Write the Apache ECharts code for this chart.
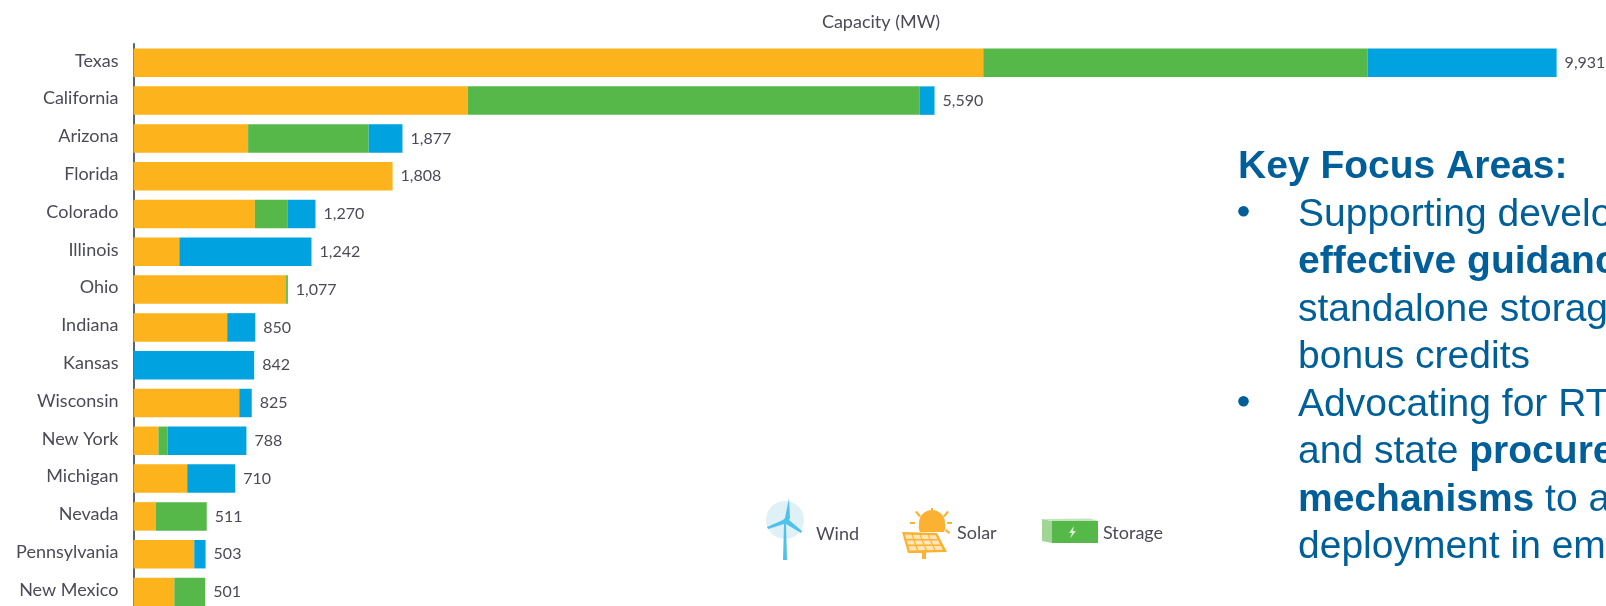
<!DOCTYPE html>
<html><head><meta charset="utf-8">
<style>html,body{margin:0;padding:0;background:#fff}#c{width:1606px;height:606px}</style>
<script src="https://cdn.jsdelivr.net/npm/echarts@6/dist/echarts.min.js"></script>
</head><body><div id="c"></div>
<script>
const states = ['Texas','California','Arizona','Florida','Colorado','Illinois','Ohio','Indiana','Kansas','Wisconsin','New York','Michigan','Nevada','Pennsylvania','New Mexico'];
const solar   = [5930,2333,800,1808,847,320,1065,654,0,738,174,375,155,424,285];
const storage = [2681,3154,841,0,230,0,12,0,0,0,64,0,356,0,216];
const wind    = [1320,103,236,0,193,922,0,196,842,87,550,335,0,79,0];
const totals  = [9931,5590,1877,1808,1270,1242,1077,850,842,825,788,710,511,503,501];

const FONT = 'Lato';
const TXT = '#4b4b57';
const BLUE = '#00a3e0', YEL = '#fdb31b', GRN = '#55b848', NAVY = '#005f99';

const lines = [
  {b:176.7,x:1238,runs:[['b','Key Focus Areas:']]},
  {b:224.2,x:1298,runs:[['n','Supporting development']]},
  {b:271.7,x:1298,runs:[['b','effective guidance']]},
  {b:319.2,x:1298,runs:[['n','standalone storage']]},
  {b:366.7,x:1298,runs:[['n','bonus credits']]},
  {b:414.2,x:1298,runs:[['n','Advocating for RTO']]},
  {b:461.7,x:1298,runs:[['n','and state '],['b','procurement']]},
  {b:509.2,x:1298,runs:[['b','mechanisms'],['n',' to a']]},
  {b:556.7,x:1298,runs:[['n','deployment in em']]}
];
const textEls = lines.map(l => ({
  type:'text', left:l.x, top:l.b-28.5, z:10, silent:true,
  style:{
    text:l.runs.map(r => `{${r[0]}|${r[1]}}`).join(''),
    rich:{
      n:{font:'39px "Liberation Sans"',fill:NAVY,height:46},
      b:{font:'bold 39px "Liberation Sans"',fill:NAVY,height:46}
    }
  }
}));
const bullets = [224.2,414.2].map(b => ({type:'circle',shape:{cx:1243.5,cy:b-13,r:5.3},style:{fill:NAVY},silent:true,z:10}));

const WIND_PATH = 'path://M22 0 L23 20 L22 22 L35 33 L34 35 L19 26 L20 62 L16 62 L17 26 L1 31 L0 29 L16 22 L18 20 Z';
const SOLAR_PATH = 'path://M17 15 A13 13 0 0 1 43 15 A13 13 0 0 1 42 24 L18 24 A13 13 0 0 1 17 15 Z M29 0 L31 0 L31 5 L29 5 Z M13 4 L15 3 L19 8 L17 9 Z M45 3 L47 4 L43 9 L41 8 Z M8 14 L13 14 L13 16 L8 16 Z M45 14 L50 14 L50 16 L45 16 Z M44 21 L48 24 L47 26 L43 23 Z M0 24 L35 25 L45 44 L24 44.5 L24 51 L20 51 L20 45 L6 45 Z';
const STORE_PATH = 'path://M0 0 L46 0 L46 22 L0 22 Z';

// solar panel cells: 4 columns x 3 rows on the tilted panel
const P = {tl:[902,532],tr:[937,533],br:[947,552],bl:[908,553]};
const pt = (u,v) => {
  const top=[P.tl[0]+(P.tr[0]-P.tl[0])*u,P.tl[1]+(P.tr[1]-P.tl[1])*u];
  const bot=[P.bl[0]+(P.br[0]-P.bl[0])*u,P.bl[1]+(P.br[1]-P.bl[1])*u];
  return [top[0]+(bot[0]-top[0])*v,top[1]+(bot[1]-top[1])*v];
};
const cells = [];
for (let i=0;i<4;i++) for (let j=0;j<3;j++) {
  const u0=.06+i*.225,u1=u0+.19,v0=.12+j*.28,v1=v0+.2;
  cells.push({type:'polygon',shape:{points:[pt(u0,v0),pt(u1,v0),pt(u1,v1),pt(u0,v1)]},
    style:{fill:'#fee6b8'},silent:true,z:10});
}

const icons = [
  {type:'circle',shape:{cx:785,cy:520,r:19},style:{fill:'#dff0f7'},silent:true,z:1},
  {type:'polygon',shape:{points:[[1042,519],[1052,521],[1052,543],[1042,541]]},style:{fill:'#a0d596'},silent:true,z:1},
  {type:'polygon',shape:{points:[[1042,519],[1090,518.5],[1098,521],[1052,521]]},style:{fill:'#c4e4be'},silent:true,z:1},
  {type:'polygon',shape:{points:[[1074,526],[1069,533],[1072,533],[1070,538.5],[1076,531],[1073,531]]},style:{fill:'#d5efd0'},silent:true,z:10},
  ...cells
];

const legendBase = {orient:'horizontal',padding:0,itemGap:0,selectedMode:false,
  formatter:'{t|{name}}',
  textStyle:{fontFamily:FONT,fontSize:18,color:TXT}};
const richText = pad => ({...legendBase.textStyle,rich:{t:{fontFamily:FONT,fontSize:18,color:TXT,padding:pad}}});

const chart = echarts.init(document.getElementById('c'),null,{renderer:'canvas'});
chart.setOption({
  animation:false,
  backgroundColor:'#fff',
  title:{text:'Capacity (MW)',left:876,textAlign:'center',top:8,
    textStyle:{fontFamily:FONT,fontSize:18,fontWeight:'normal',color:TXT}},
  legend:[
    {...legendBase,data:['Wind'],left:767,top:498,itemWidth:35,itemHeight:62,icon:WIND_PATH,
      itemStyle:{color:'#4fc1ea'},textStyle:richText([10,0,0,9])},
    {...legendBase,data:['Solar'],left:902,top:508,itemWidth:50,itemHeight:51,icon:SOLAR_PATH,
      itemStyle:{color:'#fbb131'},textStyle:richText([0,0,0,0])},
    {...legendBase,data:['Storage'],left:1052,top:521,itemWidth:46,itemHeight:22,icon:STORE_PATH,
      textStyle:richText([2,0,0,0])}
  ],
  grid:{left:133.5,top:43.9,width:1433,height:567,outerBoundsMode:'none'},
  xAxis:{type:'value',min:0,max:10000,show:false},
  yAxis:{type:'category',inverse:true,data:states,
    axisLine:{show:true,lineStyle:{color:'#56617a',width:2}},
    axisTick:{show:false},splitLine:{show:false},
    axisLabel:{color:TXT,margin:15,formatter:'{t|{value}}',
      rich:{t:{fontFamily:FONT,fontSize:18,color:TXT,padding:[0,0,4,0]}}}},
  series:[
    {name:'Solar',type:'bar',stack:'c',barWidth:28.5,itemStyle:{color:YEL},data:solar},
    {name:'Storage',type:'bar',stack:'c',barWidth:28.5,itemStyle:{color:GRN},data:storage},
    {name:'Wind',type:'bar',stack:'c',barWidth:28.5,itemStyle:{color:BLUE},data:wind},
    {name:'Total',type:'bar',stack:'c',barWidth:28.5,silent:true,itemStyle:{color:'transparent'},
      data:totals.map(() => 0),
      label:{show:true,position:'right',distance:8,offset:[0,0],fontFamily:FONT,fontSize:16,color:TXT,
        formatter:p => totals[p.dataIndex].toLocaleString('en-US')}}
  ],
  graphic:[...icons,...bullets,...textEls]
});
</script></body></html>
